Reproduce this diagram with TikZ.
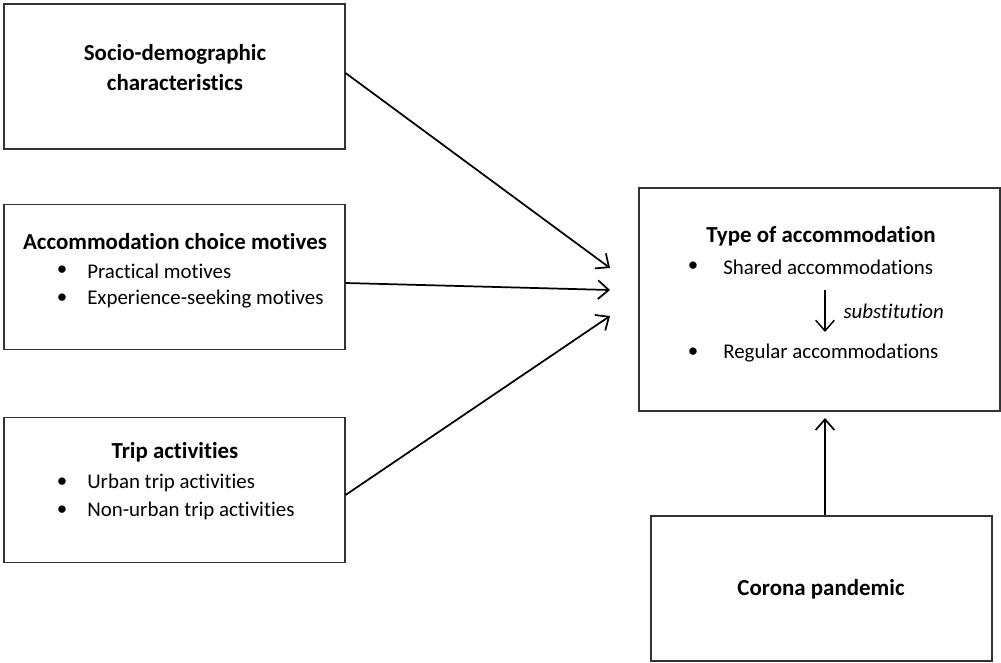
\documentclass[tikz,border=0pt]{standalone}
\usepackage{fontspec}
\setmainfont[Ligatures=NoCommon]{Carlito}
\usetikzlibrary{arrows.meta,positioning}

\tikzset{
  box/.style={draw=black!80, line width=0.8pt, minimum width=255.75pt, minimum height=108.75pt},
  title/.style={font=\fontsize{17.2}{22.5}\selectfont\bfseries, inner sep=0pt, align=center},
  item/.style={font=\fontsize{15.7}{19}\selectfont, inner sep=0pt, anchor=west},
  dot/.style={font=\fontsize{15.7}{19}\selectfont, inner sep=0pt},
  link/.style={-{Straight Barb[length=8pt,width=14pt]}, line width=1.3pt}
}

\begin{document}
\begin{tikzpicture}[x=0.75pt,y=-0.75pt]
\useasboundingbox (0,0) rectangle (1001,663);

% boxes
\node[box] (soc) at (174.5,76.5) {};
\node[box] (acc) at (174.5,277) {};
\node[box] (trip) at (174.5,490) {};
\node[box, minimum width=270.75pt, minimum height=167.25pt] (type) at (819.5,299.5) {};
\node[box] (cor) at (821.5,588.5) {};

% texts
\node[title] (soctxt) at (175,68) {Socio-demographic\\characteristics};
\node[title] (acctxt) at (175,242) {Accommodation choice motives};
\node[title] (triptxt) at (175,452) {Trip activities};
\node[title] (typetxt) at (821,236) {Type of accommodation};
\node[title] (cortxt) at (821,589) {Corona pandemic};

\foreach \y/\name/\txt in {271/a1/Practical motives,
                           299/a2/Experience-seeking motives,
                           483/t1/Urban trip activities,
                           511/t2/Non-urban trip activities}
  {
  \node[dot] (b\name) at (62,\y) {\textbullet};
  \node[item] (\name) at (87,\y) {\txt};
  }

\foreach \y/\name/\txt in {267/s1/Shared accommodations,
                           353/s2/Regular accommodations}
  {
  \node[dot] (b\name) at (693,\y) {\textbullet};
  \node[item] (\name) at (723,\y) {\txt};
  }

% arrows
\coordinate (in1) at (610,268);
\coordinate (in2) at (610,290);
\coordinate (in3) at (610,316);
\coordinate (in4) at (825,418);
\coordinate (sub1) at (825,290);
\coordinate (sub2) at (825,332);

\draw[link] (soc.east |- 0,73) -- (in1);
\draw[link] (acc.east |- 0,283) -- (in2);
\draw[link] (trip.east |- 0,495) -- (in3);
\draw[link] (cor.north -| in4) -- (in4);
\draw[link, line width=1.1pt] (sub1) -- (sub2) node[midway, right=10pt, font=\fontsize{15.7}{19}\selectfont\itshape] (subtxt) {substitution};

\end{tikzpicture}
\end{document}
